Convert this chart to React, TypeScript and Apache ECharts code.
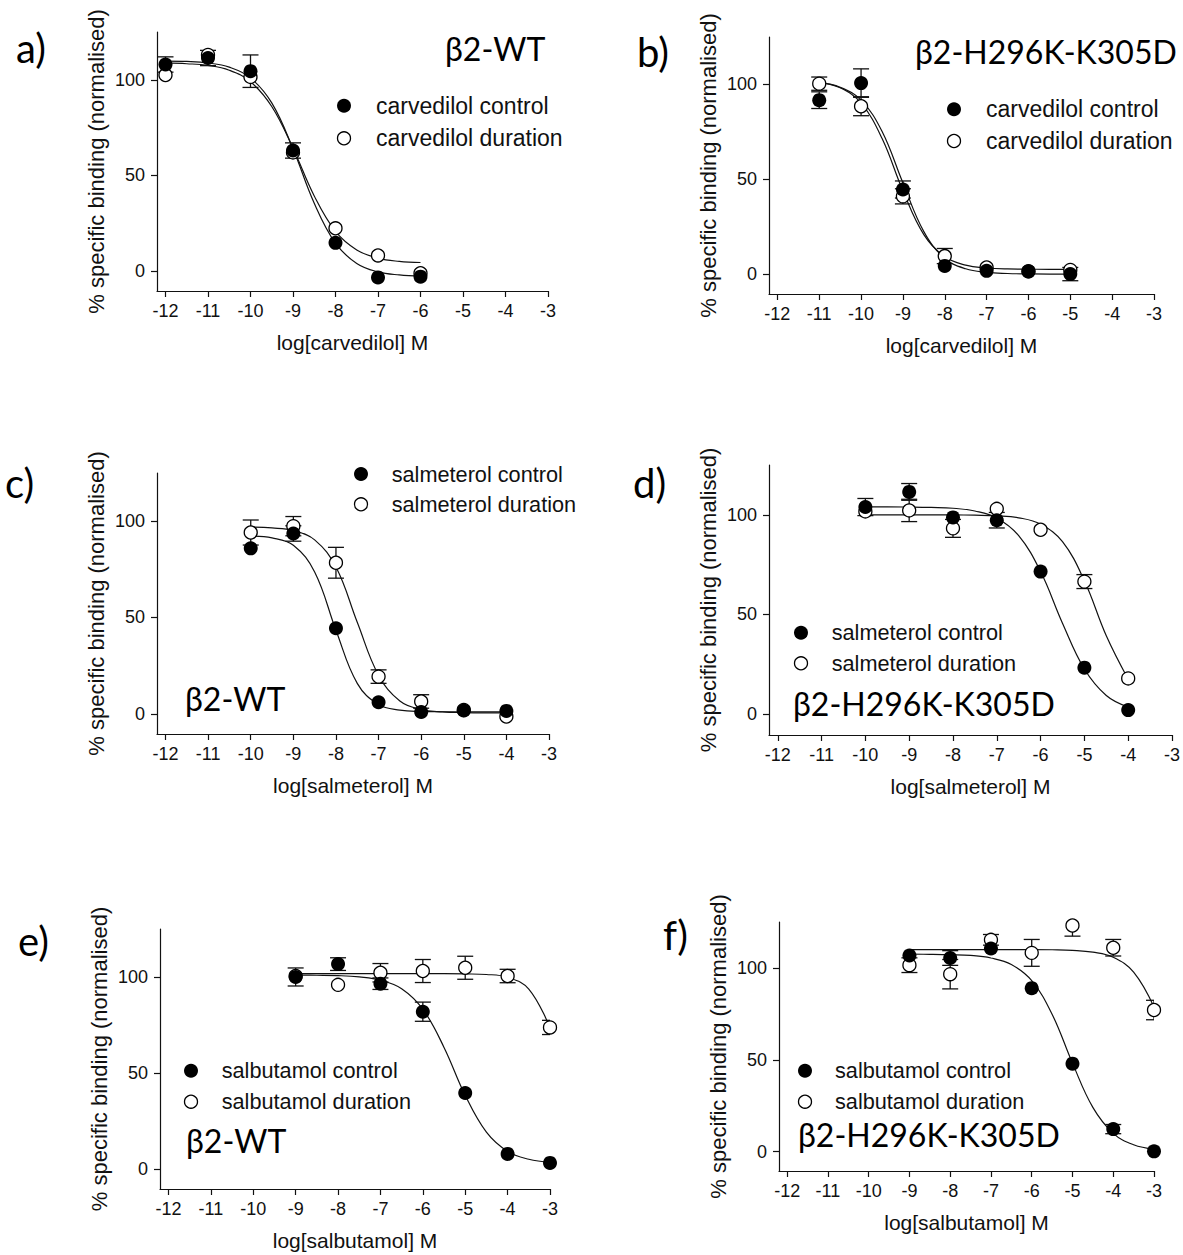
import React, { useEffect, useRef } from "react";
import * as echarts from "echarts";

// ---------- axes ----------
const X_TICKS = [-12, -11, -10, -9, -8, -7, -6, -5, -4, -3];
const Y_TICKS = [0, 50, 100];
const X_MIN = -12.2;
const X_MAX = -3;
const Y_MIN = -10.5;
const Y_MAX = 125;
const Y_NAME = "% specific binding (normalised)";

// ---------- panel a: carvedilol, β2-WT ----------
const A_X = [-12, -11, -10, -9, -8, -7, -6];
const A_CTRL = [108, 111.4, 104.5, 63, 14.7, -3.4, -3];
const A_CTRL_ERR = [4, 4, 8.5, 4, 0, 0, 0];
const A_DUR = [102.5, 113, 101.5, 62, 22.3, 8.1, -1.2];
const A_DUR_ERR = [0, 0, 0, 0, 0, 0, 0];
const A_FIT_X = [-12, -11.5, -11, -10.5, -10, -9.5, -9, -8.5, -8, -7.5, -7, -6.5, -6];
const A_CTRL_FIT = [109.8, 109.6, 108.8, 106.6, 101.0, 87.9, 63.9, 35.4, 14.5, 3.9, -0.5, -2.1, -2.7];
const A_DUR_FIT = [108.8, 108.4, 107.5, 105.0, 99.0, 86.0, 64.2, 39.2, 20.7, 11.0, 6.7, 5.0, 4.4];

// ---------- panel b: carvedilol, β2-H296K-K305D ----------
const B_X = [-11, -10, -9, -8, -7, -6, -5];
const B_CTRL = [91.7, 100.7, 44.6, 4.3, 1.7, 1.4, 0];
const B_CTRL_ERR = [4.4, 7.5, 4.5, 0, 0, 0, 3.5];
const B_DUR = [100.4, 88.5, 41, 9.5, 3.5, 1.5, 2.2];
const B_DUR_ERR = [3.5, 5, 4, 4, 0, 0, 0];
const B_FIT_X = [-11, -10.5, -10, -9.5, -9, -8.5, -8, -7.5, -7, -6.5, -6, -5.5, -5];
const B_CTRL_FIT = [100.9, 98.5, 91.7, 75.3, 48.1, 22.4, 8.3, 2.8, 0.9, 0.3, 0.1, 0, 0];
const B_DUR_FIT = [101.1, 98.2, 90.1, 71.6, 43.9, 20.8, 9.1, 4.7, 3.2, 2.7, 2.6, 2.5, 2.5];

// ---------- panel c: salmeterol, β2-WT ----------
const C_X = [-10, -9, -8, -7, -6, -5, -4];
const C_CTRL = [85.9, 93.6, 44.4, 6.0, 0.9, 1.7, 1.5];
const C_CTRL_ERR = [0, 4, 0, 0, 0, 0, 0];
const C_DUR = [94.1, 97.4, 78.4, 19.3, 6.4, 2, -1.4];
const C_DUR_ERR = [6.5, 5, 8, 3.5, 3.5, 0, 0];
const C_FIT_X = [-10, -9.5, -9, -8.5, -8, -7.5, -7, -6.5, -6, -5.5, -5, -4.5, -4];
const C_CTRL_FIT = [92.2, 91.3, 87.5, 73.6, 43.4, 15.8, 4.8, 1.9, 1.2, 1.05, 1.0, 1.0, 1.0];
const C_DUR_FIT = [96.9, 96.5, 95.1, 90.3, 76.2, 47.5, 20.0, 6.6, 2.2, 0.96, 0.6, 0.5, 0.5];

// ---------- panel d: salmeterol, β2-H296K-K305D ----------
const D_X = [-10, -9, -8, -7, -6, -5, -4];
const D_CTRL = [103.9, 111.5, 98.7, 97.3, 71.5, 23.3, 2.0];
const D_CTRL_ERR = [4.3, 4.2, 0, 3.9, 0, 0, 0];
const D_DUR = [101.7, 102.2, 93.2, 103, 92.5, 66.5, 17.9];
const D_DUR_ERR = [0, 5.6, 4.5, 0, 0, 3.5, 0];
const D_FIT_X = [-10, -9.5, -9, -8.5, -8, -7.5, -7, -6.5, -6, -5.5, -5, -4.5, -4];
const D_CTRL_FIT = [104.0, 104.0, 103.9, 103.7, 103.3, 101.9, 98.4, 89.5, 71.5, 45.6, 22.6, 9.3, 3.5];
const D_DUR_FIT = [100, 100, 100, 99.98, 99.95, 99.8, 99.5, 98.5, 95.3, 86.5, 66.9, 39.3, 17.5];

// ---------- panel e: salbutamol, β2-WT ----------
const E_X = [-9, -8, -7, -6, -5, -4, -3];
const E_CTRL = [100, 106.7, 96.5, 81.9, 39.5, 7.8, 3.1];
const E_CTRL_ERR = [4.7, 3.3, 3, 5, 0, 0, 0];
const E_DUR = [100.5, 95.9, 102.2, 103.1, 104.8, 100.5, 73.7];
const E_DUR_ERR = [0, 0, 4.8, 6, 6, 3.5, 3.7];
const E_FIT_X = [-9, -8.5, -8, -7.5, -7, -6.5, -6, -5.5, -5, -4.5, -4, -3.5, -3];
const E_CTRL_FIT = [101.0, 100.9, 100.7, 100.0, 98.3, 93.9, 83.2, 63.3, 38.3, 19.1, 9.1, 5.0, 3.4];
const E_DUR_FIT = [101.7, 101.7, 101.7, 101.7, 101.7, 101.7, 101.7, 101.7, 101.6, 101.3, 99.8, 93.7, 73.5];

// ---------- panel f: salbutamol, β2-H296K-K305D ----------
const F_X = [-9, -8, -7, -6, -5, -4, -3];
const F_CTRL = [106.8, 105.4, 110.6, 89, 47.9, 12.3, 0.2];
const F_CTRL_ERR = [0, 4, 0, 0, 0, 2.5, 0];
const F_DUR = [101.5, 96.6, 115.3, 108.2, 123.1, 111, 77.1];
const F_DUR_ERR = [4, 8, 2.9, 7.3, 5.8, 4.5, 5.3];
const F_FIT_X = [-9, -8.5, -8, -7.5, -7, -6.5, -6, -5.5, -5, -4.5, -4, -3.5, -3];
const F_CTRL_FIT = [107.5, 107.4, 107.2, 106.8, 105.4, 101.9, 93.1, 74.8, 48.2, 24.1, 10.0, 3.8, 1.4];
const F_DUR_FIT = [110, 110, 110, 110, 110, 110, 110, 109.9, 109.6, 108.6, 105.8, 97.7, 78.7];

// ---------- labels ----------
const TAGS = ["a)", "b)", "c)", "d)", "e)", "f)"];
const STRAINS = ["β2-WT", "β2-H296K-K305D", "β2-WT", "β2-H296K-K305D", "β2-WT", "β2-H296K-K305D"];
const DRUGS = ["carvedilol", "carvedilol", "salmeterol", "salmeterol", "salbutamol", "salbutamol"];

// ---------- layout (pixels) ----------
const GRIDS = [
  { left: 157, top: 32, width: 391, height: 259 },
  { left: 769, top: 37, width: 385, height: 257 },
  { left: 157, top: 473, width: 392, height: 261 },
  { left: 769, top: 465, width: 403, height: 270 },
  { left: 160, top: 929, width: 390, height: 260 },
  { left: 779, top: 922, width: 375, height: 249 },
];
const TAG_POS = [[16, 48], [637, 52], [5, 483], [633, 483], [18, 941], [663, 935]];
const STRAIN_POS = [[445, 48], [915, 51], [185, 698], [793, 703], [186, 1140], [798, 1134]];
// [symbolX, yControl, yDuration, textX, fontSize]
const LEGEND_POS = [
  [344, 105.7, 138.3, 376, 23],
  [954, 109.3, 141, 986, 23],
  [361, 474, 504.3, 391.7, 21.7],
  [801, 632.7, 663.3, 831.7, 21.7],
  [191, 1070.7, 1101.7, 221.7, 21.7],
  [805, 1070.7, 1101.7, 835, 21.7],
];

const INK = "#111";
const SANS = "'Liberation Sans', Arial, sans-serif";
const CAL = "Lato, 'Noto Sans', sans-serif";

const PANELS = [
  { x: A_X, c: A_CTRL, ce: A_CTRL_ERR, d: A_DUR, de: A_DUR_ERR, fx: A_FIT_X, cf: A_CTRL_FIT, df: A_DUR_FIT },
  { x: B_X, c: B_CTRL, ce: B_CTRL_ERR, d: B_DUR, de: B_DUR_ERR, fx: B_FIT_X, cf: B_CTRL_FIT, df: B_DUR_FIT },
  { x: C_X, c: C_CTRL, ce: C_CTRL_ERR, d: C_DUR, de: C_DUR_ERR, fx: C_FIT_X, cf: C_CTRL_FIT, df: C_DUR_FIT },
  { x: D_X, c: D_CTRL, ce: D_CTRL_ERR, d: D_DUR, de: D_DUR_ERR, fx: D_FIT_X, cf: D_CTRL_FIT, df: D_DUR_FIT },
  { x: E_X, c: E_CTRL, ce: E_CTRL_ERR, d: E_DUR, de: E_DUR_ERR, fx: E_FIT_X, cf: E_CTRL_FIT, df: E_DUR_FIT },
  { x: F_X, c: F_CTRL, ce: F_CTRL_ERR, d: F_DUR, de: F_DUR_ERR, fx: F_FIT_X, cf: F_CTRL_FIT, df: F_DUR_FIT },
];

const renderErr = (params: any, api: any) => {
  const x = api.value(0);
  const y = api.value(1);
  const e = api.value(2);
  if (!e) return null;
  const p0 = api.coord([x, y + e]);
  const p1 = api.coord([x, y - e]);
  const w = 8;
  const style = { stroke: INK, lineWidth: 1.3, fill: null };
  const cs = params.coordSys;
  return {
    type: "group",
    clipPath: { type: "rect", shape: { x: cs.x, y: cs.y, width: cs.width, height: cs.height } },
    children: [
      { type: "line", shape: { x1: p0[0], y1: p0[1], x2: p1[0], y2: p1[1] }, style },
      { type: "line", shape: { x1: p0[0] - w, y1: p0[1], x2: p0[0] + w, y2: p0[1] }, style },
      { type: "line", shape: { x1: p1[0] - w, y1: p1[1], x2: p1[0] + w, y2: p1[1] }, style },
    ],
  };
};

function buildOption() {
  const grid: any[] = [];
  const xAxis: any[] = [];
  const yAxis: any[] = [];
  const series: any[] = [];
  const graphic: any[] = [];

  PANELS.forEach((p, i) => {
    grid.push({ ...GRIDS[i], containLabel: false });
    xAxis.push({
      type: "value",
      gridIndex: i,
      min: X_MIN,
      max: X_MAX,
      name: `log[${DRUGS[i]}] M`,
      nameLocation: "middle",
      nameGap: 41,
      nameTextStyle: { fontFamily: SANS, fontSize: 21, color: INK },
      axisLine: { show: true, onZero: false, lineStyle: { color: INK, width: 1.2 } },
      axisTick: { show: true, length: 6, customValues: X_TICKS, lineStyle: { color: INK, width: 1.2 } },
      axisLabel: { customValues: X_TICKS, fontFamily: SANS, fontSize: 18, color: INK, margin: 11 },
      splitLine: { show: false },
    });
    yAxis.push({
      type: "value",
      gridIndex: i,
      min: Y_MIN,
      max: Y_MAX,
      name: Y_NAME,
      nameLocation: "middle",
      nameGap: 50,
      nameTextStyle: { fontFamily: SANS, fontSize: 22, color: INK },
      axisLine: { show: true, onZero: false, lineStyle: { color: INK, width: 1.2 } },
      axisTick: { show: true, length: 6, customValues: Y_TICKS, lineStyle: { color: INK, width: 1.2 } },
      axisLabel: { customValues: Y_TICKS, fontFamily: SANS, fontSize: 18, color: INK, margin: 12 },
      splitLine: { show: false },
    });

    const errData = (ys: number[], es: number[]) => p.x.map((x, k) => [x, ys[k], es[k]]);
    series.push({
      type: "custom", xAxisIndex: i, yAxisIndex: i, z: 1,
      renderItem: renderErr, encode: { x: 0, y: 1 }, data: errData(p.d, p.de),
    });
    series.push({
      type: "custom", xAxisIndex: i, yAxisIndex: i, z: 1,
      renderItem: renderErr, encode: { x: 0, y: 1 }, data: errData(p.c, p.ce),
    });
    series.push({
      type: "line", xAxisIndex: i, yAxisIndex: i, z: 2, smooth: 0.4, showSymbol: false,
      lineStyle: { color: INK, width: 1.2 },
      data: p.fx.map((x, k) => [x, p.df[k]]),
    });
    series.push({
      type: "line", xAxisIndex: i, yAxisIndex: i, z: 2, smooth: 0.4, showSymbol: false,
      lineStyle: { color: INK, width: 1.2 },
      data: p.fx.map((x, k) => [x, p.cf[k]]),
    });
    series.push({
      type: "scatter", xAxisIndex: i, yAxisIndex: i, z: 3, symbol: "circle", symbolSize: 13,
      itemStyle: { color: "#fff", borderColor: "#000", borderWidth: 1.3, opacity: 1 },
      data: p.x.map((x, k) => [x, p.d[k]]),
    });
    series.push({
      type: "scatter", xAxisIndex: i, yAxisIndex: i, z: 4, symbol: "circle", symbolSize: 14,
      itemStyle: { color: "#000", opacity: 1 },
      data: p.x.map((x, k) => [x, p.c[k]]),
    });

    // panel tag and strain label
    graphic.push({
      type: "text", x: TAG_POS[i][0], y: TAG_POS[i][1],
      style: { text: TAGS[i], font: `40px ${CAL}`, fill: "#000", verticalAlign: "middle", textVerticalAlign: "middle" },
    });
    graphic.push({
      type: "text", x: STRAIN_POS[i][0], y: STRAIN_POS[i][1],
      style: { text: STRAINS[i], font: `32px ${CAL}`, fill: "#000", textVerticalAlign: "middle", verticalAlign: "middle" },
    });
    // legend
    const [lx, ly1, ly2, tx, fs] = LEGEND_POS[i];
    graphic.push({ type: "circle", shape: { cx: lx, cy: ly1, r: 7 }, style: { fill: "#000" } });
    graphic.push({ type: "circle", shape: { cx: lx, cy: ly2, r: 6.5 }, style: { fill: "#fff", stroke: "#000", lineWidth: 1.3 } });
    graphic.push({
      type: "text", x: tx, y: ly1,
      style: { text: `${DRUGS[i]} control`, font: `${fs}px ${SANS}`, fill: INK, verticalAlign: "middle", textVerticalAlign: "middle" },
    });
    graphic.push({
      type: "text", x: tx, y: ly2,
      style: { text: `${DRUGS[i]} duration`, font: `${fs}px ${SANS}`, fill: INK, verticalAlign: "middle", textVerticalAlign: "middle" },
    });
  });

  return {
    animation: false,
    backgroundColor: "#fff",
    grid, xAxis, yAxis, series, graphic,
  };
}

export default function App() {
  const ref = useRef<HTMLDivElement>(null);
  useEffect(() => {
    if (!ref.current) return;
    const chart = echarts.init(ref.current, undefined, { renderer: "svg" });
    chart.setOption(buildOption() as any);
    return () => chart.dispose();
  }, []);
  return (
    <div
      ref={ref}
      style={{ position: "absolute", left: 0, top: 0, width: 1183, height: 1255, background: "#fff" }}
    />
  );
}
